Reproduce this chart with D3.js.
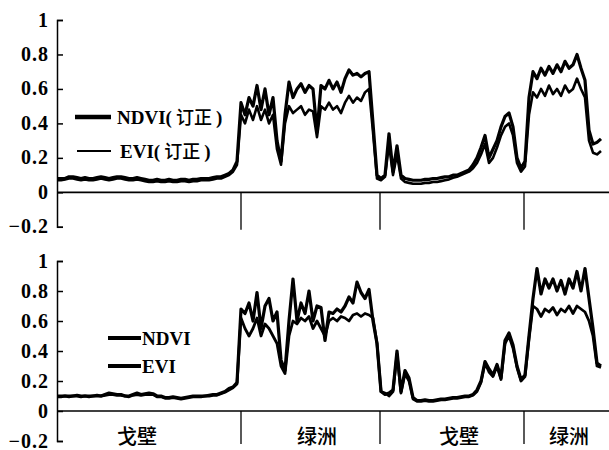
<!DOCTYPE html>
<html>
<head>
<meta charset="utf-8">
<script src="https://cdn.jsdelivr.net/npm/d3@7"></script>
<style>
  body { margin: 0; background: #fff; }
  svg { display: block; }
  .tick text { font-family: "Liberation Serif", "DejaVu Serif", serif; font-weight: bold; font-size: 20px; letter-spacing: 1px; fill: #000; }
</style>
</head>
<body>
<svg width="609" height="450"></svg>
<script>
// samples along the transect, one every step
var yTicks = [-0.2, 0, 0.2, 0.4, 0.6, 0.8, 1];
var regions = ["戈壁", "绿洲", "戈壁", "绿洲"];
var regionLabelPos = [20, 65, 100.5, 128];
var regionBounds = [46, 80.75, 116.75];

// top: corrected
var ndviFix = [0.08,0.08,0.08,0.09,0.09,0.085,0.08,0.085,0.08,0.08, 0.085,0.09,0.085,0.08,0.085,0.09,0.09,0.085,0.08,0.08,
  0.085,0.08,0.075,0.07,0.07,0.075,0.07,0.07,0.075,0.07, 0.07,0.075,0.075,0.07,0.075,0.075,0.08,0.08,0.08,0.085,
  0.09,0.09,0.1,0.11,0.13,0.18,
  0.52,0.45,0.55,0.5,0.62,0.48,0.6,0.45,0.55,0.3, 0.18,0.45,0.64,0.55,0.6,0.63,0.58,0.62,0.6,0.35,
  0.62,0.6,0.65,0.6,0.64,0.58,0.66,0.71,0.68,0.69, 0.67,0.69,0.7,0.4,0.1,0.08,0.1,0.34,0.12,0.27,
  0.1,0.08,
  0.075,0.07,0.07,0.07,0.075,0.075,0.08,0.08,0.085,0.09,0.09,0.1,0.1,
  0.11,0.12,0.13,0.16,0.2,0.26,0.33,0.2,0.25,0.3, 0.38,0.44,0.46,0.38,0.2,0.14,0.18,0.55,0.7,0.66,
  0.72,0.68,0.73,0.69,0.74,0.7,0.76,0.72,0.74,0.8, 0.72,0.65,0.36,0.28,0.29,0.31];
var eviFix = [0.07,0.07,0.075,0.08,0.08,0.075,0.07,0.075,0.07,0.07, 0.075,0.08,0.075,0.07,0.075,0.08,0.08,0.075,0.07,0.07,
  0.075,0.07,0.065,0.06,0.06,0.065,0.06,0.06,0.065,0.06, 0.06,0.065,0.065,0.06,0.065,0.065,0.07,0.07,0.07,0.075,
  0.08,0.08,0.09,0.1,0.12,0.16,
  0.45,0.4,0.48,0.42,0.5,0.42,0.48,0.4,0.45,0.25, 0.16,0.4,0.5,0.46,0.48,0.5,0.45,0.48,0.47,0.32,
  0.5,0.48,0.52,0.48,0.5,0.46,0.52,0.56,0.52,0.55, 0.53,0.58,0.6,0.35,0.08,0.07,0.09,0.28,0.1,0.22,
  0.08,0.06,
  0.055,0.05,0.05,0.05,0.055,0.055,0.06,0.06,0.065,0.07,0.075,0.085,0.09,
  0.1,0.11,0.12,0.14,0.17,0.22,0.28,0.17,0.2,0.26, 0.33,0.38,0.4,0.33,0.17,0.12,0.15,0.45,0.58,0.55,
  0.6,0.56,0.62,0.57,0.6,0.56,0.62,0.58,0.6,0.66, 0.6,0.55,0.3,0.23,0.22,0.24];

// bottom: raw
var ndviRaw = [0.1,0.1,0.1,0.1,0.1,0.105,0.1,0.1,0.1,0.1, 0.105,0.1,0.11,0.12,0.115,0.11,0.11,0.1,0.1,0.11,
  0.12,0.11,0.115,0.12,0.115,0.1,0.1,0.09,0.09,0.095, 0.09,0.085,0.09,0.095,0.1,0.1,0.1,0.1,0.105,0.11,
  0.11,0.12,0.13,0.15,0.16,0.19,
  0.68,0.65,0.72,0.6,0.79,0.55,0.7,0.75,0.6,0.66, 0.34,0.27,0.6,0.88,0.6,0.72,0.65,0.8,0.6,0.7,
  0.69,0.47,0.66,0.65,0.68,0.66,0.7,0.76,0.72,0.86, 0.79,0.75,0.81,0.6,0.45,0.13,0.11,0.12,0.14,0.4,
  0.13,0.27,0.22,0.09,
  0.07,0.07,0.075,0.07,0.07,0.075,0.08,0.08,0.085,0.09,0.09,0.095,0.1,0.1,
  0.11,0.14,0.2,0.33,0.28,0.24,0.31,0.22,0.47,0.52, 0.44,0.3,0.21,0.24,0.5,0.75,0.95,0.78,0.88,0.82,
  0.88,0.8,0.87,0.78,0.88,0.82,0.93,0.8,0.95,0.75, 0.55,0.32,0.3];
var eviRaw = [0.095,0.095,0.1,0.095,0.1,0.1,0.095,0.1,0.095,0.1, 0.1,0.1,0.105,0.11,0.11,0.105,0.105,0.1,0.095,0.105,
  0.11,0.105,0.11,0.11,0.11,0.095,0.095,0.085,0.085,0.09, 0.085,0.08,0.085,0.09,0.095,0.095,0.095,0.1,0.1,0.105,
  0.105,0.115,0.125,0.14,0.155,0.18,
  0.62,0.55,0.5,0.55,0.62,0.5,0.58,0.55,0.5,0.45, 0.3,0.25,0.5,0.6,0.58,0.62,0.6,0.63,0.55,0.6,
  0.55,0.5,0.6,0.62,0.6,0.63,0.62,0.6,0.64,0.65, 0.63,0.65,0.64,0.62,0.45,0.13,0.12,0.1,0.13,0.38,
  0.12,0.25,0.2,0.08,
  0.065,0.065,0.07,0.065,0.065,0.07,0.075,0.075,0.08,0.085,0.085,0.09,0.095,0.095,
  0.105,0.13,0.19,0.32,0.26,0.23,0.3,0.21,0.45,0.5, 0.42,0.29,0.2,0.23,0.48,0.7,0.68,0.63,0.68,0.66,
  0.69,0.64,0.68,0.66,0.7,0.65,0.7,0.68,0.66,0.6, 0.5,0.3,0.29];

var svg = d3.select("svg");
svg.append("rect").attr("width", 609).attr("height", 450).attr("fill", "#fff");

var x = d3.scaleLinear().domain([0, ndviFix.length - 1]).range([57, 601]);
var cjk = '"Noto Sans CJK SC", sans-serif';
var serif = '"Liberation Serif", "DejaVu Serif", serif';

function drawPanel(top, bottom, ndvi, evi, legend) {
    var y = d3.scaleLinear().domain([-0.2, 1]).range([bottom, top]);
    var g = svg.append("g");

    var axis = d3.axisLeft(y)
        .tickValues(yTicks)
        .tickSize(-6)
        .tickPadding(8)
        .tickFormat(d3.format("~g"));
    g.append("g")
        .attr("transform", "translate(57,0)")
        .call(axis)
        .call(function (a) {
            a.select(".domain").attr("stroke", "#000").attr("stroke-width", 1.5);
            a.selectAll(".tick line").attr("stroke", "#000").attr("stroke-width", 1.5);
            a.selectAll(".tick text").attr("dy", "0.3em");
        });

    // zero line across the panel
    g.append("line")
        .attr("x1", 57).attr("x2", 609)
        .attr("y1", y(0)).attr("y2", y(0))
        .attr("stroke", "#000").attr("stroke-width", 1.6);

    g.selectAll(".sep")
        .data(regionBounds)
        .enter().append("line")
        .attr("x1", function (d) { return x(d); })
        .attr("x2", function (d) { return x(d); })
        .attr("y1", y(0))
        .attr("y2", y(-0.2) + 3)
        .attr("stroke", "#000").attr("stroke-width", 1.3);

    var line = d3.line()
        .x(function (d, i) { return x(i); })
        .y(function (d) { return y(d); });

    g.append("path").datum(evi)
        .attr("d", line)
        .attr("fill", "none").attr("stroke", "#000")
        .attr("stroke-width", legend.eviWidth).attr("stroke-linejoin", "round");
    g.append("path").datum(ndvi)
        .attr("d", line)
        .attr("fill", "none").attr("stroke", "#000")
        .attr("stroke-width", 3.2).attr("stroke-linejoin", "round");

    // legend
    legend.items.forEach(function (it) {
        g.append("line")
            .attr("x1", it.x1).attr("x2", it.x2)
            .attr("y1", it.y).attr("y2", it.y)
            .attr("stroke", "#000").attr("stroke-width", it.w);
        var t = g.append("text")
            .attr("x", it.tx).attr("y", it.y + 7)
            .attr("font-family", serif).attr("font-weight", "bold")
            .attr("font-size", 19);
        t.append("tspan").text(it.name);
        if (it.fix) {
            t.append("tspan").text("(");
            t.append("tspan").attr("font-family", cjk).attr("font-size", 18).attr("font-weight", 500).text(" 订正 ");
            t.append("tspan").text(")");
        }
    });
    return y;
}

drawPanel(20, 226.8, ndviFix, eviFix, {
    eviWidth: 2.6,
    items: [
        { name: "NDVI", fix: true, x1: 75, x2: 111, y: 117, tx: 117, w: 4.5 },
        { name: "EVI", fix: true, x1: 77, x2: 111, y: 151, tx: 120, w: 2.2 }
    ]
});

drawPanel(261, 441, ndviRaw, eviRaw, {
    eviWidth: 2.8,
    items: [
        { name: "NDVI", fix: false, x1: 108, x2: 141, y: 338, tx: 142, w: 4 },
        { name: "EVI", fix: false, x1: 108, x2: 141, y: 366, tx: 142, w: 4 }
    ]
});

svg.selectAll(".region")
    .data(regions)
    .enter().append("text")
    .attr("x", function (d, i) { return x(regionLabelPos[i]); })
    .attr("y", 444)
    .attr("text-anchor", "middle")
    .attr("font-family", cjk)
    .attr("font-size", 20)
    .attr("font-weight", 500)
    .text(function (d) { return d; });
</script>
</body>
</html>
